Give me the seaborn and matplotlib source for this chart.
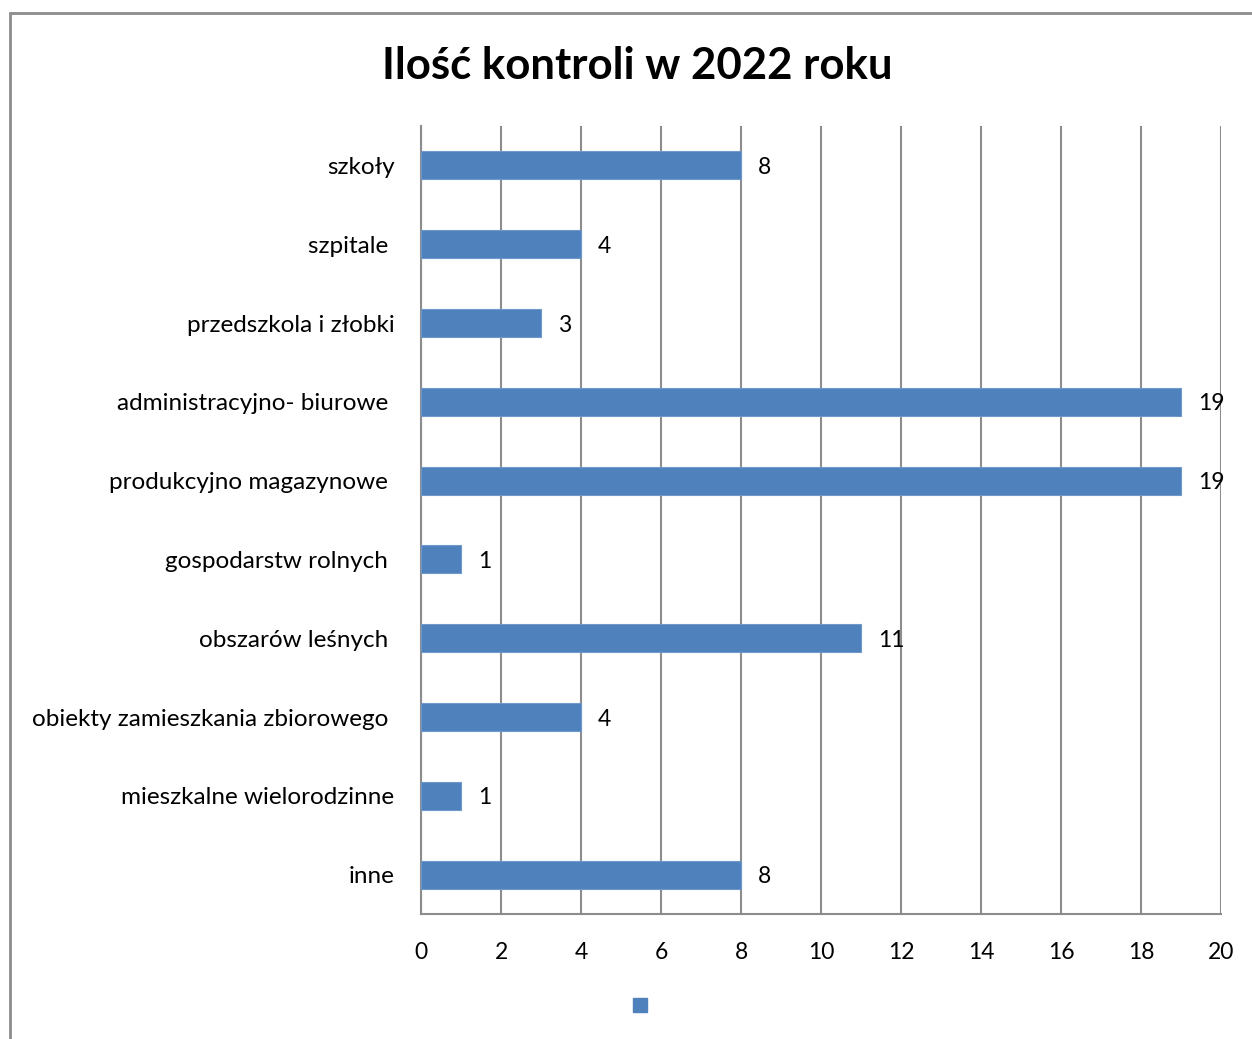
import matplotlib
matplotlib.use("Agg")
import matplotlib.pyplot as plt
from matplotlib.lines import Line2D
from matplotlib.patches import Rectangle
import seaborn as sns
import pandas as pd

categories = [
    "szkoły",
    "szpitale ",
    "przedszkola i złobki",
    "administracyjno- biurowe ",
    "produkcyjno magazynowe ",
    "gospodarstw rolnych ",
    "obszarów leśnych ",
    "obiekty zamieszkania zbiorowego ",
    "mieszkalne wielorodzinne",
    "inne",
]
values = [8, 4, 3, 19, 19, 1, 11, 4, 1, 8]
x_ticks = [0, 2, 4, 6, 8, 10, 12, 14, 16, 18, 20]
title = "Ilość kontroli w 2022 roku"

bar_color = "#4F81BD"
grid_color = "#8C8C8C"

sns.set_theme(style="white")
plt.rcParams["font.family"] = ["Lato", "DejaVu Sans"]

df = pd.DataFrame({"kategoria": categories, "ilosc": values})

fig = plt.figure(figsize=(12.52, 10.39), dpi=100)
ax = fig.add_axes([421 / 1252, 1 - 914 / 1039, 800 / 1252, 788 / 1039])

sns.barplot(data=df, y="kategoria", x="ilosc", orient="h", color=bar_color,
            saturation=1, width=0.355, ax=ax, zorder=3,
            edgecolor="#6F98CB", linewidth=0.8)

ax.set_xlim(0, 20)
ax.set_xticks(x_ticks)
ax.set_xlabel("")
ax.set_ylabel("")
ax.grid(axis="x", color=grid_color, linewidth=1.5, zorder=0)
ax.grid(axis="y", visible=False)
ax.set_axisbelow(True)

for side in ["top", "right"]:
    ax.spines[side].set_visible(False)
for side in ["left", "bottom"]:
    ax.spines[side].set_visible(True)
    ax.spines[side].set_color(grid_color)
    ax.spines[side].set_linewidth(1.5)

ax.tick_params(axis="x", length=0, pad=20, labelsize=16.5, labelcolor="black")
ax.tick_params(axis="y", length=0, pad=19, labelsize=17.5, labelcolor="black")

for cont in ax.containers:
    texts = ax.bar_label(cont, labels=[str(v) for v in values], padding=12,
                         fontsize=16.5, color="black")
    for t in texts:
        t.set_verticalalignment("center_baseline")

fig.text(637 / 1252, 1 - 66 / 1039, title, ha="center", va="center",
         fontsize=31.5, fontweight="bold", color="black")

handle = Line2D([], [], marker="s", linestyle="none", markersize=10.5,
                markerfacecolor=bar_color, markeredgecolor=bar_color)
fig.legend(handles=[handle], labels=[""], loc="center",
           bbox_to_anchor=(640 / 1252, 1 - 1006 / 1039), frameon=False,
           handlelength=1, handletextpad=0)

fig.patches.append(Rectangle((10 / 1252, -0.05), 1.2, 1 - 13 / 1039 + 0.05,
                             transform=fig.transFigure, fill=False,
                             edgecolor=grid_color, linewidth=2, figure=fig))

fig.savefig("out.png", dpi=100)
